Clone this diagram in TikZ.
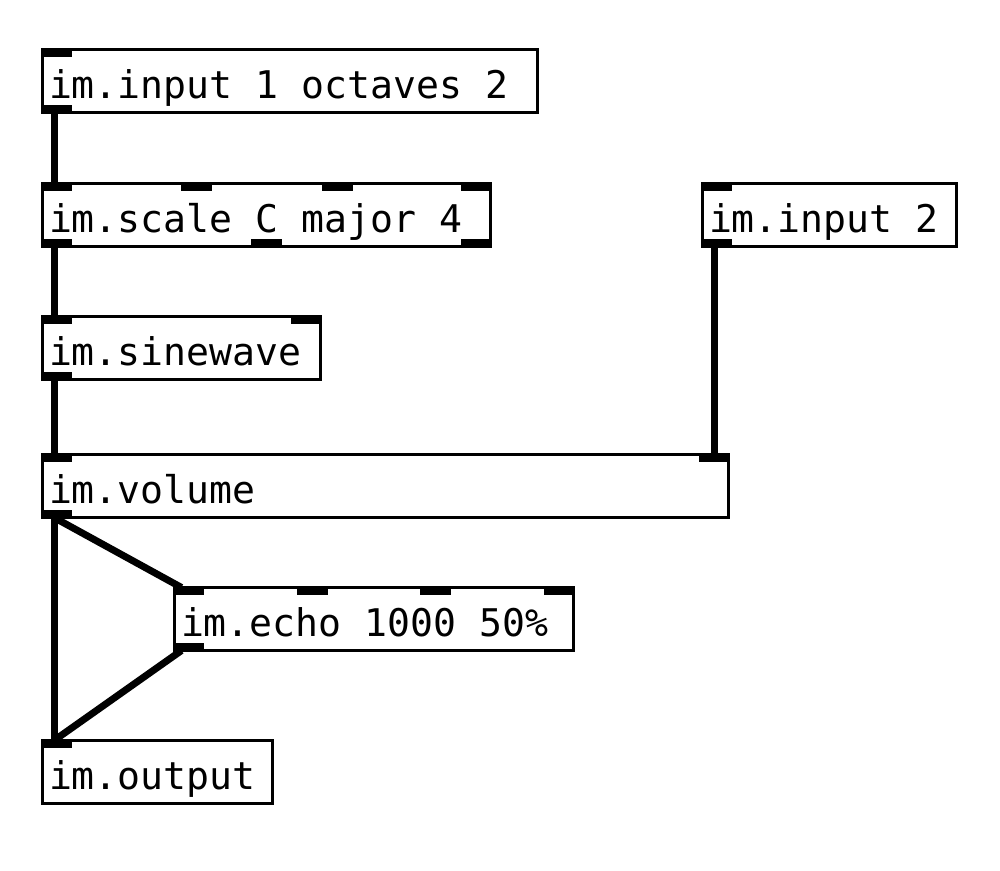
\documentclass[tikz,border=0pt]{standalone}
\usepackage{fontspec}
\newfontfamily\pdfont{DejaVu Sans Mono}
\usetikzlibrary{calc}
\newlength\pxu
\setlength\pxu{0.02cm}
\pgfdeclarelayer{bg}
\pgfsetlayers{bg,main}
\newcommand\pdfontsel{\pdfont\fontsize{21.7pt}{26pt}\selectfont}
\newcommand\pdt[1]{\spaceskip=0.602em\xspaceskip=0.602em\relax #1}
\tikzset{
  pdbox/.style={draw, fill=white, line width=3\pxu, rectangle, anchor=north west,
    outer sep=0pt, inner xsep=6.5\pxu, inner ysep=0pt,
    text height=49\pxu, text depth=14\pxu, align=left,
    font=\pdfontsel},
  cord/.style={line width=7\pxu, black},
  tab/.style={fill=black}
}
\newcommand\tabtop[2]{\fill[tab] ($(#1.north west)+(#2-1.5,-1.5)$) rectangle ++(31,9);}
\newcommand\tabbot[2]{\fill[tab] ($(#1.south west)+(#2-1.5,1.5)$) rectangle ++(31,-9);}
\begin{document}
\begin{tikzpicture}[x=0.02cm,y=-0.02cm]
\useasboundingbox (0,0) rectangle (1000,870);
% boxes
\node[pdbox, text width=482\pxu] (A) at (42.5,49.5) {\pdt{im.input 1 octaves 2}};
\node[pdbox, text width=435\pxu] (B) at (42.5,183.5) {\pdt{im.scale C major 4}};
\node[pdbox, text width=241\pxu] (C) at (702.5,183.5) {\pdt{im.input 2}};
\node[pdbox, text width=265\pxu] (D) at (42.5,316.5) {\pdt{im.sinewave}};
\node[pdbox, text width=673\pxu] (E) at (42.5,454.5) {\pdt{im.volume}};
\node[pdbox, text width=386\pxu] (F) at (174.5,587.5) {\pdt{im.echo 1000 50\%}};
\node[pdbox, text width=217\pxu] (G) at (42.5,740.5) {\pdt{im.output}};
% cords
\begin{pgfonlayer}{bg}
\draw[cord] ($(A.south west)+(11.5,0)$) -- ($(B.north west)+(11.5,0)$);
\draw[cord] ($(B.south west)+(11.5,0)$) -- ($(D.north west)+(11.5,0)$);
\draw[cord] ($(D.south west)+(11.5,0)$) -- ($(E.north west)+(11.5,0)$);
\draw[cord] ($(C.south west)+(11.5,0)$) -- ($(E.north west)+(671.5,0)$);
\draw[cord] ($(E.south west)+(11.5,0)$) -- ($(G.north west)+(11.5,0)$);
\draw[cord] ($(E.south west)+(11.5,0)$) -- ($(F.north west)+(7,0)$);
\draw[cord] ($(F.south west)+(7,0)$) -- ($(G.north west)+(11.5,0)$);
\end{pgfonlayer}
% inlets / outlets
\tabtop{A}{0} \tabbot{A}{0}
\tabtop{B}{0} \tabtop{B}{140} \tabtop{B}{281} \tabtop{B}{420}
\tabbot{B}{0} \tabbot{B}{210} \tabbot{B}{420}
\tabtop{C}{0} \tabbot{C}{0}
\tabtop{D}{0} \tabtop{D}{250} \tabbot{D}{0}
\tabtop{E}{0} \tabtop{E}{658} \tabbot{E}{0}
\tabtop{F}{0} \tabtop{F}{124} \tabtop{F}{247} \tabtop{F}{371} \tabbot{F}{0}
\tabtop{G}{0}
\end{tikzpicture}
\end{document}
